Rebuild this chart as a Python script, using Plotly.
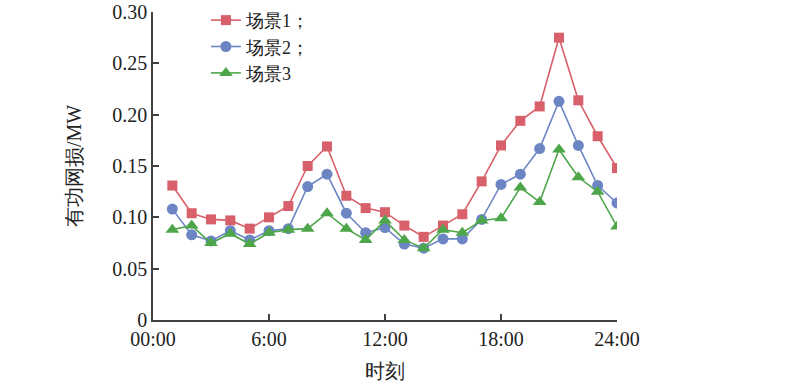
import plotly.graph_objects as go

hours = list(range(1, 25))
scene1 = [0.131, 0.104, 0.098, 0.097, 0.089, 0.100, 0.111, 0.150, 0.169, 0.121, 0.109, 0.105,
          0.092, 0.081, 0.092, 0.103, 0.135, 0.170, 0.194, 0.208, 0.275, 0.214, 0.179, 0.148]
scene2 = [0.108, 0.083, 0.077, 0.087, 0.078, 0.087, 0.089, 0.130, 0.142, 0.104, 0.085, 0.090,
          0.074, 0.070, 0.079, 0.079, 0.098, 0.132, 0.142, 0.167, 0.213, 0.170, 0.131, 0.114]
scene3 = [0.088, 0.092, 0.075, 0.084, 0.074, 0.085, 0.088, 0.089, 0.104, 0.089, 0.078, 0.097,
          0.078, 0.070, 0.088, 0.085, 0.097, 0.099, 0.129, 0.115, 0.166, 0.139, 0.125, 0.091]
names = ["场景1；", "场景2；", "场景3"]
xticks = [0, 6, 12, 18, 24]
xticklabels = ["00:00", "6:00", "12:00", "18:00", "24:00"]
yticks = [0, 0.05, 0.10, 0.15, 0.20, 0.25, 0.30]
yticklabels = ["0", "0.05", "0.10", "0.15", "0.20", "0.25", "0.30"]

FONT = "Liberation Serif"
styles = [("#D8606A", "square", 10), ("#6C86C4", "circle", 11), ("#4EA64A", "triangle-up", 12)]

fig = go.Figure()
for ys, name, (col, sym, sz) in zip([scene1, scene2, scene3], names, styles):
    fig.add_trace(go.Scatter(
        x=hours, y=ys, name=name, mode="lines+markers",
        line=dict(color=col, width=1.6),
        marker=dict(symbol=sym, size=sz, color=col),
    ))

axis_common = dict(
    showline=True, linecolor="#404040", linewidth=1.5,
    ticks="inside", ticklen=6, tickcolor="#404040", tickwidth=1.5,
    showgrid=False, zeroline=False, mirror=False, automargin=False,
    tickfont=dict(family=FONT, size=20, color="#222222"),
)

fig.update_layout(
    width=800, height=382,
    margin=dict(l=153, r=183, t=12, b=62, autoexpand=False),
    paper_bgcolor="white", plot_bgcolor="white",
    font=dict(family=FONT, color="#222222"),
    showlegend=True,
    legend=dict(x=0.114, y=0.995, xanchor="left", yanchor="top", yref="container",
                font=dict(family=FONT, size=18, color="#222222"),
                bgcolor="rgba(0,0,0,0)", tracegroupgap=0),
    xaxis=dict(range=[0, 24], tickvals=xticks, ticktext=xticklabels,
               ticklabelstandoff=0,
               title=dict(text="时刻", font=dict(family=FONT, size=20), standoff=19),
               **axis_common),
    yaxis=dict(range=[0, 0.30], tickvals=yticks, ticktext=yticklabels,
               title=dict(text="有功网损/MW", font=dict(family=FONT, size=20), standoff=25),
               **axis_common),
)

fig.write_html("out.html", config={"displayModeBar": False},
               post_script="document.body.style.margin='0';")
